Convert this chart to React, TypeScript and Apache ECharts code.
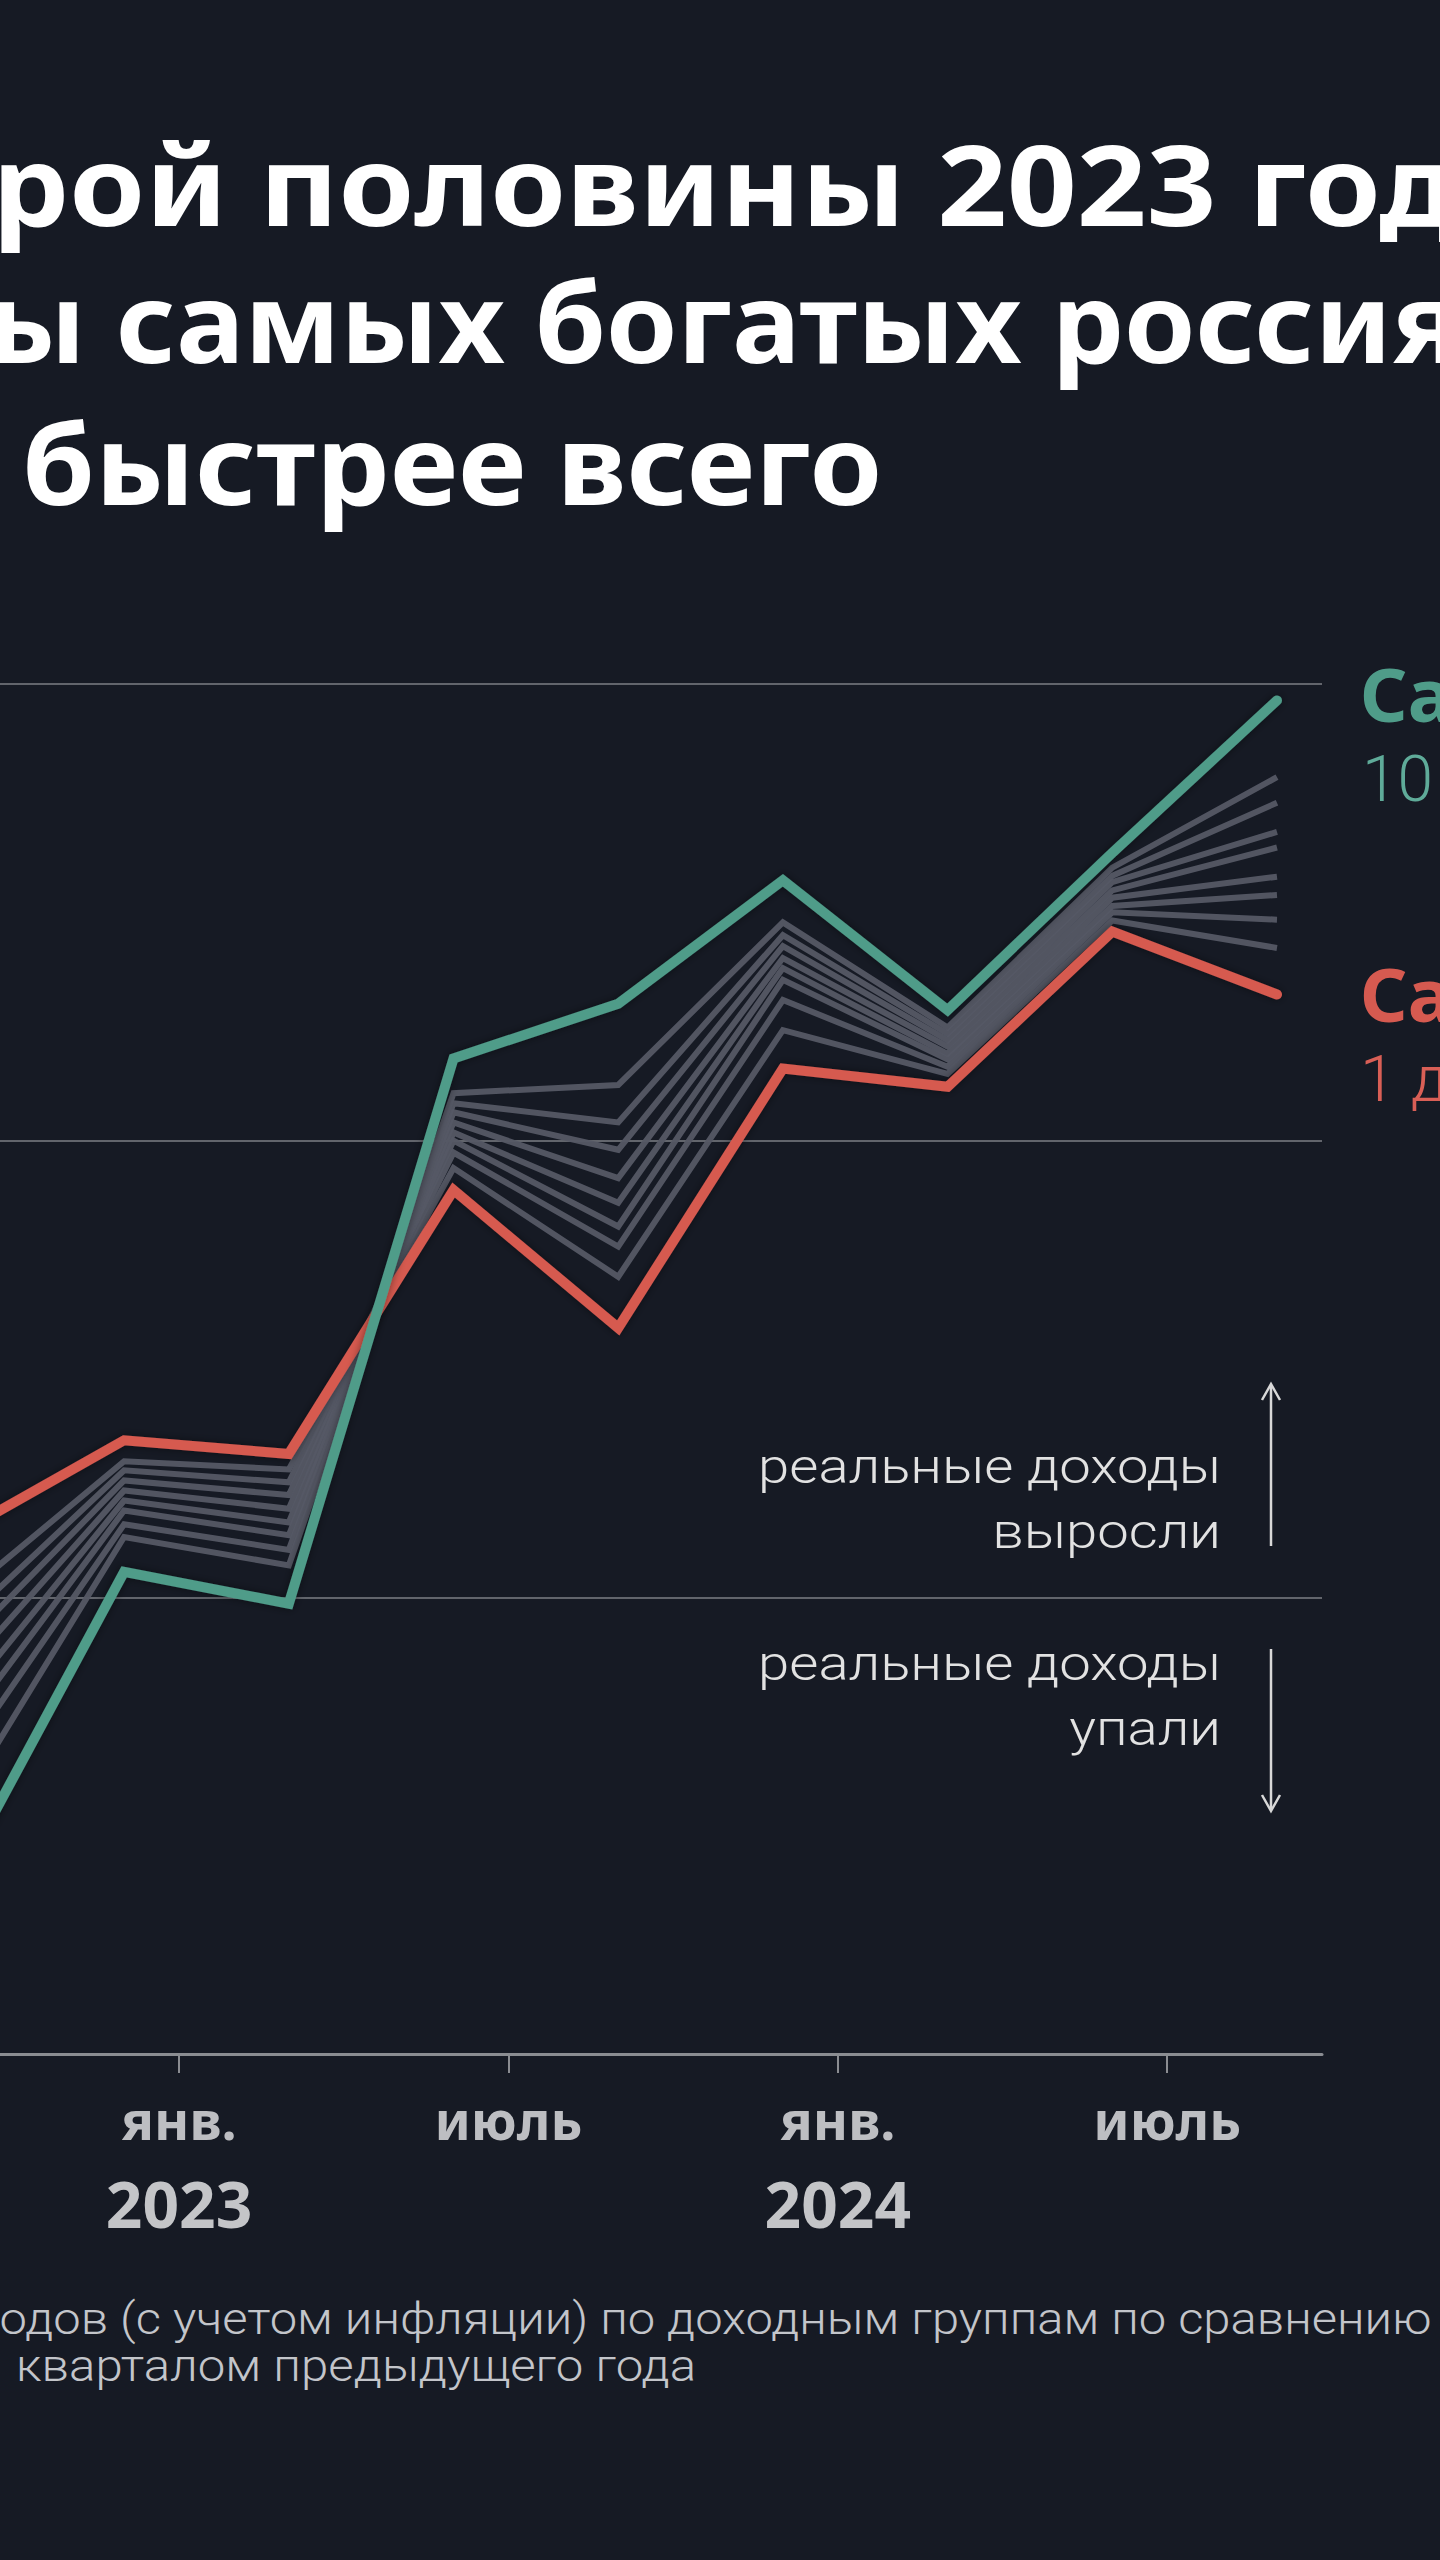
import React, { useEffect, useRef } from "react";
import * as echarts from "echarts";

// x = months since Jan 2022 (Jan 2022 = 0); one point per quarter
const months = [8, 11, 14, 17, 20, 23, 26, 29, 32];
// real income growth, % y/y, by income decile
const decile10 = [-3.07, 0.28, -0.07, 5.9, 6.5, 7.85, 6.43, 8.15, 9.82];
const decile9 = [-2.28, 0.66, 0.35, 5.52, 5.61, 7.39, 6.24, 7.99, 8.98];
const decile8 = [-1.81, 0.8, 0.52, 5.41, 5.2, 7.25, 6.17, 7.9, 8.7];
const decile7 = [-1.47, 0.95, 0.68, 5.31, 4.9, 7.13, 6.1, 7.83, 8.38];
const decile6 = [-1.17, 1.06, 0.82, 5.2, 4.59, 7.0, 6.03, 7.74, 8.21];
const decile5 = [-0.86, 1.17, 0.97, 5.09, 4.32, 6.89, 5.95, 7.66, 7.89];
const decile4 = [-0.57, 1.28, 1.12, 5.0, 4.06, 6.76, 5.89, 7.57, 7.69];
const decile3 = [-0.31, 1.39, 1.26, 4.87, 3.84, 6.54, 5.81, 7.5, 7.42];
const decile2 = [-0.01, 1.49, 1.4, 4.7, 3.51, 6.21, 5.73, 7.41, 7.11];
const decile1 = [0.7, 1.72, 1.57, 4.46, 2.95, 5.79, 5.59, 7.29, 6.6];

const grayDeciles = [decile2, decile3, decile4, decile5, decile6, decile7, decile8, decile9];

const tickMonths = [12, 18, 24, 30];
const tickMonthLabels = ["янв.", "июль", "янв.", "июль"];
const tickYearLabels = ["2023", "", "2024", ""];

const titleLines = [
  "Со второй половины 2023 года",
  "доходы самых богатых россиян",
  "растут быстрее всего",
];
const richLabel = "Самые богатые";
const richSub = "10 дециль";
const poorLabel = "Самые бедные";
const poorSub = "1 дециль";
const upText = ["реальные доходы", "выросли"];
const downText = ["реальные доходы", "упали"];
const noteLines = [
  "доходов (с учетом инфляции) по доходным группам по сравнению",
  "кварталом предыдущего года",
];

const BG = "#161a24";
const GREEN = "#4f9c89";
const RED = "#d65a50";
const GRAY = "#555965";

export default function App() {
  const ref = useRef<HTMLDivElement>(null);

  useEffect(() => {
    document.body.style.margin = "0";
    document.body.style.background = BG;
    const chart = echarts.init(ref.current!, null, { renderer: "svg" });

    const ctx = document.createElement("canvas").getContext("2d")!;
    const measure = (t: string, font: string) => {
      ctx.font = font;
      return ctx.measureText(t).width;
    };

    // fit text: hidden prefix length, reference substring start x and width
    const fitText = (
      full: string,
      hiddenLen: number,
      refEnd: number,
      startX: number,
      refWidth: number,
      y: number,
      font: string,
      fill: string
    ) => {
      const hidden = full.slice(0, hiddenLen);
      const refStr = full.slice(hiddenLen, refEnd);
      const s = refWidth / measure(refStr, font);
      const x = startX - measure(hidden, font) * s;
      return {
        type: "text",
        x,
        y,
        scaleX: s,
        scaleY: 1,
        z: 20,
        style: { text: full, font, fill, align: "left", verticalAlign: "middle" },
      };
    };

    const titleFont = 'bold 112px "Noto Sans", sans-serif';
    const lightFont = (px: number) => `300 ${px}px Roboto, "Noto Sans", sans-serif`;

    const graphics: any[] = [];
    // title (the reference is cropped at both sides)
    graphics.push(fitText(titleLines[0], 6, 27, -8, 1466, 182, titleFont, "#ffffff"));
    graphics.push(fitText(titleLines[1], 5, 27, -12, 1474, 320, titleFont, "#ffffff"));
    graphics.push(fitText(titleLines[2], 7, 20, 22, 860, 462, titleFont, "#ffffff"));

    // right labels
    graphics.push({
      type: "text", x: 1360, y: 693, z: 20,
      style: { text: richLabel, font: 'bold 74px "Noto Sans", sans-serif', fill: GREEN, align: "left", verticalAlign: "middle" },
    });
    graphics.push({
      type: "text", x: 1362, y: 779, z: 20,
      style: { text: richSub, font: lightFont(64), fill: "#5fab99", align: "left", verticalAlign: "middle" },
    });
    graphics.push({
      type: "text", x: 1360, y: 993, z: 20,
      style: { text: poorLabel, font: 'bold 74px "Noto Sans", sans-serif', fill: RED, align: "left", verticalAlign: "middle" },
    });
    graphics.push({
      type: "text", x: 1360, y: 1079, z: 20,
      style: { text: poorSub, font: lightFont(64), fill: "#d95f56", align: "left", verticalAlign: "middle" },
    });

    // annotations
    const annFont = lightFont(48);
    const annScale = 463 / measure(upText[0], annFont);
    const annRows: [string, number][] = [
      [upText[0], 1466],
      [upText[1], 1531],
      [downText[0], 1663],
      [downText[1], 1728],
    ];
    annRows.forEach(([t, y]) => {
      graphics.push({
        type: "text", x: 1221, y, scaleX: annScale, z: 20,
        style: { text: t, font: annFont, fill: "#e2e2e2", align: "right", verticalAlign: "middle" },
      });
    });
    const arrowStyle = { stroke: "#d8d8d8", lineWidth: 2.5, fill: "none" };
    graphics.push({ type: "line", z: 20, shape: { x1: 1271, y1: 1546, x2: 1271, y2: 1385 }, style: arrowStyle });
    graphics.push({ type: "polyline", z: 20, shape: { points: [[1262, 1400], [1271, 1384], [1280, 1400]] }, style: arrowStyle });
    graphics.push({ type: "line", z: 20, shape: { x1: 1271, y1: 1649, x2: 1271, y2: 1810 }, style: arrowStyle });
    graphics.push({ type: "polyline", z: 20, shape: { points: [[1262, 1795], [1271, 1811], [1280, 1795]] }, style: arrowStyle });

    // footnote
    const noteFont = lightFont(44);
    graphics.push(fitText(noteLines[0], 3, noteLines[0].length, 0, 1432, 2319, noteFont, "#c3c5ca"));
    graphics.push(fitText(noteLines[1], 0, noteLines[1].length, 16, 680, 2366, noteFont, "#c3c5ca"));

    const lineData = (arr: number[]) => months.map((m, i) => [m, arr[i]]);

    const series: any[] = grayDeciles.map((arr, k) => ({
      type: "line",
      name: `decile${k + 2}`,
      data: lineData(arr),
      symbol: "none",
      clip: true,
      z: 2,
      lineStyle: { color: GRAY, width: 6, join: "miter", opacity: 0.95 },
    }));
    series.push({
      type: "line",
      name: "decile1",
      data: lineData(decile1),
      symbol: "none",
      clip: true,
      z: 3,
      lineStyle: {
        color: RED, width: 10, cap: "round", join: "miter",
        shadowColor: "rgba(0,0,0,0.45)", shadowBlur: 8,
      },
    });
    series.push({
      type: "line",
      name: "decile10",
      data: lineData(decile10),
      symbol: "none",
      clip: true,
      z: 4,
      lineStyle: {
        color: GREEN, width: 10, cap: "round", join: "miter",
        shadowColor: "rgba(0,0,0,0.45)", shadowBlur: 8,
      },
    });

    chart.setOption({
      animation: false,
      backgroundColor: BG,
      grid: { left: 0, right: 118, top: 684, bottom: 506 },
      xAxis: {
        type: "value",
        min: 8.739,
        max: 32.82,
        splitLine: { show: false },
        axisLine: { show: true, onZero: false, lineStyle: { color: "#8a8c91", width: 3 } },
        axisTick: {
          show: true,
          customValues: tickMonths,
          length: 19,
          lineStyle: { color: "#8a8c91", width: 2 },
        },
        axisLabel: {
          customValues: tickMonths,
          margin: 35,
          formatter: (v: number) => {
            const i = tickMonths.findIndex((t) => Math.abs(t - v) < 0.01);
            if (i < 0) return "";
            return tickYearLabels[i]
              ? `{a|${tickMonthLabels[i]}}\n{b|${tickYearLabels[i]}}`
              : `{a|${tickMonthLabels[i]}}`;
          },
          rich: {
            a: { fontFamily: '"Noto Sans", sans-serif', fontWeight: "bold", fontSize: 54, color: "#bdbec2", lineHeight: 60 },
            b: { fontFamily: '"Noto Sans", sans-serif', fontWeight: "bold", fontSize: 64, color: "#c4c5c8", lineHeight: 108 },
          },
        },
      },
      yAxis: {
        type: "value",
        min: -5,
        max: 10,
        interval: 5,
        axisLine: { show: false },
        axisTick: { show: false },
        axisLabel: { show: false },
        splitLine: { show: true, lineStyle: { color: "#62656c", width: 2 } },
      },
      series,
      graphic: graphics,
    });

    return () => chart.dispose();
  }, []);

  return (
    <div
      ref={ref}
      style={{ position: "absolute", left: 0, top: 0, width: 1440, height: 2560 }}
    />
  );
}
